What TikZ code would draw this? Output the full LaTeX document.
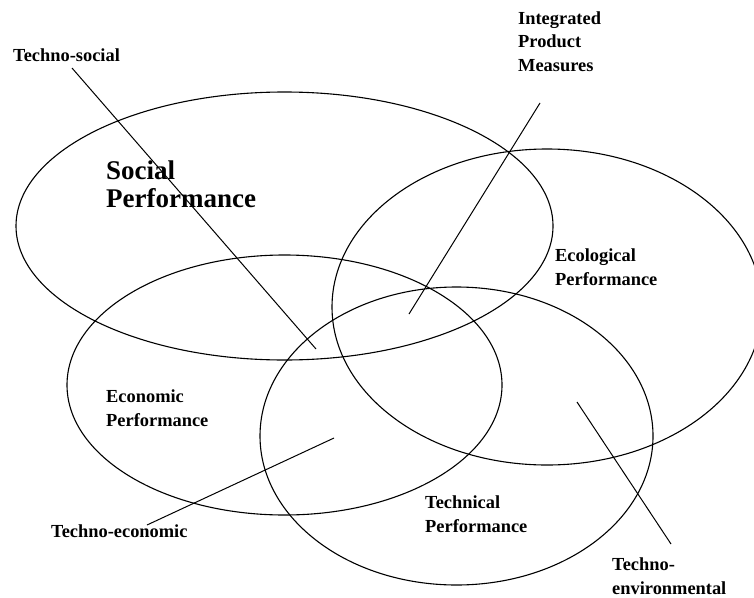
\documentclass[tikz,border=0pt]{standalone}
\usepackage{fontspec}
\setmainfont{Liberation Serif}
\usepackage{tikz}
\tikzset{lbl/.style = {font=\bfseries\fontsize{18.4}{23.5}\selectfont,
                       anchor=base west, inner sep=0, align=left}}
\tikzset{biglbl/.style = {lbl, font=\bfseries\fontsize{27}{28}\selectfont}}
\tikzset{ring/.style = {line width=1.1pt}}
\tikzset{ptr/.style = {line width=1pt}}

\begin{document}
\begin{tikzpicture}[x=1pt, y=-1pt]
    \useasboundingbox (0, 0) rectangle (754, 597);

    \draw [ring] (284.5, 226) ellipse [x radius=268.5pt, y radius=134pt];
    \draw [ring] (547, 307) ellipse [x radius=215pt, y radius=158pt];
    \draw [ring] (284.5, 385) ellipse [x radius=217.5pt, y radius=130pt];
    \draw [ring] (456.5, 436) ellipse [x radius=196.5pt, y radius=149pt];

    % base = last line
    \node [biglbl] (social) at (106, 207) {Social\\Performance};
    \node [lbl] (ecological) at (555, 285) {Ecological\\Performance};
    \node [lbl] (economic) at (106, 426) {Economic\\Performance};
    \node [lbl] (technical) at (425, 532) {Technical\\Performance};

    \node [lbl] (tsocial) at (13, 61) {Techno-social};
    \node [lbl] (ipm) at (518, 71) {Integrated\\Product\\Measures};
    \node [lbl] (teco) at (51, 537) {Techno-economic};
    \node [lbl] (tenv) at (612, 594) {Techno-\\environmental};

    \coordinate (tsocial-a) at (72, 68);
    \coordinate (tsocial-b) at (316, 349);
    \draw [ptr] (tsocial-a) -- (tsocial-b);

    \coordinate (ipm-a) at (540, 103);
    \coordinate (ipm-b) at (409, 314);
    \draw [ptr] (ipm-a) -- (ipm-b);

    \coordinate (teco-a) at (147, 525);
    \coordinate (teco-b) at (334, 438);
    \draw [ptr] (teco-a) -- (teco-b);

    \coordinate (tenv-a) at (577, 402);
    \coordinate (tenv-b) at (671, 544);
    \draw [ptr] (tenv-a) -- (tenv-b);
  \end{tikzpicture}
\end{document}
